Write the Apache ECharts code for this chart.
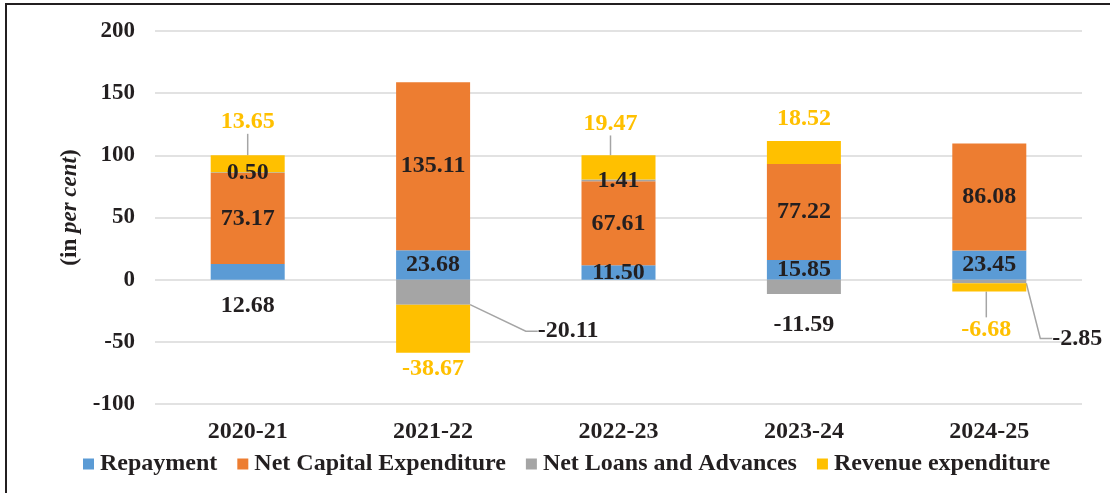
<!DOCTYPE html>
<html>
<head>
<meta charset="utf-8">
<script src="https://cdn.jsdelivr.net/npm/echarts@6/dist/echarts.min.js"></script>
<style>
  html, body { margin: 0; padding: 0; background: #fff; overflow: hidden; }
  #frame { position: absolute; left: 5px; top: 3px; width: 1300px; height: 700px;
           border-left: 2px solid #231f20; border-top: 2px solid #231f20; }
  #chart { position: absolute; left: 0; top: 0; width: 1110px; height: 493px; }
</style>
</head>
<body>
<div id="frame"></div>
<div id="chart"></div>
<script>
const years = ['2020-21', '2021-22', '2022-23', '2023-24', '2024-25'];
const repayment = [12.68, 23.68, 11.50, 15.85, 23.45];
const netCapex = [73.17, 135.11, 67.61, 77.22, 86.08];
const netLoans = [0.50, -20.11, 1.41, -11.59, -2.85];
const revenueExp = [13.65, -38.67, 19.47, 18.52, -6.68];
const yMin = -100, yMax = 200, yStep = 50;

const FONT = '"Liberation Serif", "Times New Roman", serif';
const INK = '#231f20';
const colors = ['#5b9bd5', '#ed7d31', '#a5a5a5', '#ffc000'];

// labels that get pulled away from their bar (with a leader line): "series-index": [dx, dy]
const labelMoves = {
  '2-1': [135, 39],
  '2-4': [88, 57],
  '3-0': [0, -42],
  '3-2': [-8, -44],
  '3-4': [-3, 42]
};

const fmt = p => Number(p.value).toFixed(2);

function items(values, tweaks) {
  return values.map((v, i) => tweaks[i] ? Object.assign({ value: v }, tweaks[i]) : v);
}

const moved = (len2) => ({
  label: { position: 'inside', padding: 8 },
  labelLine: { show: true, length2: len2 }
});

function barSeries(name, idx, data, labelColor) {
  return {
    name: name,
    type: 'bar',
    stack: 'total',
    barWidth: 74,
    itemStyle: { color: colors[idx] },
    label: {
      show: true,
      position: 'inside',
      formatter: fmt,
      color: labelColor,
      fontFamily: FONT,
      fontWeight: 'bold',
      fontSize: 24
    },
    labelLine: { lineStyle: { color: '#a5a5a5', width: 1.5 } },
    labelLayout: function (p) {
      const m = labelMoves[p.seriesIndex + '-' + p.dataIndex];
      return m ? { dx: m[0], dy: m[1] } : {};
    },
    data: data
  };
}

const chart = echarts.init(document.getElementById('chart'), null, { renderer: 'canvas' });

chart.setOption({
  animation: false,
  color: colors,
  grid: { left: 155, right: 28, top: 31, bottom: 89, containLabel: false },
  legend: {
    top: 447,
    left: 78,
    icon: 'rect',
    itemWidth: 11,
    itemHeight: 11,
    itemGap: 20,
    itemStyle: { borderWidth: 0 },
    textStyle: { fontFamily: FONT, fontWeight: 'bold', fontSize: 24, color: INK, padding: [0, 0, 0, 1] }
  },
  xAxis: {
    type: 'category',
    data: years,
    axisLine: { show: false, onZero: false },
    axisTick: { show: false },
    axisLabel: { margin: 16, fontFamily: FONT, fontWeight: 'bold', fontSize: 24, color: INK }
  },
  yAxis: {
    type: 'value',
    min: yMin,
    max: yMax,
    interval: yStep,
    name: '{b|(in }{i|per cent}{b|)}',
    nameLocation: 'middle',
    nameGap: 72,
    nameTextStyle: {
      padding: [0, 0, 0, 20],
      rich: {
        b: { fontFamily: FONT, fontWeight: 'bold', fontSize: 23, color: INK },
        i: { fontFamily: FONT, fontWeight: 'bold', fontStyle: 'italic', fontSize: 23, color: INK }
      }
    },
    axisLabel: { margin: 20, fontFamily: FONT, fontWeight: 'bold', fontSize: 23, color: INK },
    splitLine: { lineStyle: { color: '#d9d9d9', width: 1.5 } }
  },
  series: [
    barSeries('Repayment', 0,
      items(repayment, { 0: { label: { position: 'bottom', distance: 14 } } }), INK),
    barSeries('Net Capital Expenditure', 1, netCapex, INK),
    barSeries('Net Loans and Advances', 2,
      items(netLoans, {
        1: moved(12),
        3: { label: { position: 'bottom', distance: 19 } },
        4: moved(12)
      }), INK),
    barSeries('Revenue expenditure', 3,
      items(revenueExp, {
        0: moved(0),
        1: { label: { position: 'bottom', distance: 4 } },
        2: moved(0),
        3: { label: { position: 'top', distance: 10 } },
        4: moved(0)
      }), '#ffc000')
  ]
});
</script>
</body>
</html>
